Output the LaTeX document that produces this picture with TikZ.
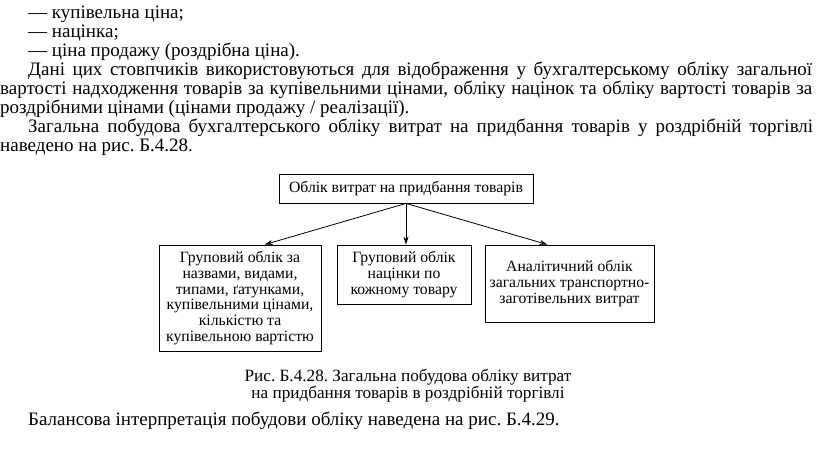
\documentclass[tikz,border=0pt]{standalone}
\usepackage{fontspec}
\setmainfont{Liberation Serif}
\usetikzlibrary{arrows.meta}
\frenchspacing
\begin{document}
\begin{tikzpicture}[x=1pt,y=-1pt,
  txt/.style={anchor=base west,inner sep=0pt,font=\fontsize{19}{19}\selectfont},
  captxt/.style={anchor=base,inner sep=0pt,font=\fontsize{17.2}{17}\selectfont},
  box/.style={draw,line width=0.8pt,inner sep=0pt,font=\fontsize{15.7}{15.7}\selectfont,align=center},
  arr/.style={-{Stealth[length=8pt,width=5pt]},line width=0.8pt}]
\useasboundingbox[fill=white] (0,0) rectangle (816,456);
\node[txt] (l1) at (28,18) {— купівельна ціна;};
\node[txt] (l2) at (28,37) {— націнка;};
\node[txt] (l3) at (28,56) {— ціна продажу (роздрібна ціна).};
\node[txt] (l4) at (28,75) {\makebox[784pt][s]{Дані цих стовпчиків використовуються для відображення у бухгалтерському обліку загальної}};
\node[txt] (l5) at (0,94) {\makebox[812pt][s]{вартості надходження товарів за купівельними цінами, обліку націнок та обліку вартості товарів за}};
\node[txt] (l6) at (0,113) {роздрібними цінами (цінами продажу / реалізації).};
\node[txt] (l7) at (28,132) {\makebox[785pt][s]{Загальна побудова бухгалтерського обліку витрат на придбання товарів у роздрібній торгівлі}};
\node[txt] (l8) at (0,151) {наведено на рис. Б.4.28.};

\node[box,minimum width=254pt,minimum height=29pt] (top) at (406,188.5) {Облік витрат на придбання товарів};
\node[box,minimum width=162pt,minimum height=106pt] (lb) at (240,298) {Груповий облік за\\назвами, видами,\\типами, ґатунками,\\купівельними цінами,\\кількістю та\\купівельною вартістю};
\node[box,minimum width=134pt,minimum height=59pt] (mb) at (404,274.5) {Груповий облік\\націнки по\\кожному товару};
\node[box,minimum width=169pt,minimum height=77pt] (rb) at (569.5,283.5) {Аналітичний облік\\загальних транспортно-\\заготівельних витрат};

\draw[arr] (top.south) -- ([xshift=106pt]lb.north west);
\draw[arr] (top.south) -- (top.south |- mb.north);
\draw[arr] (top.south) -- ([xshift=63pt]rb.north west);

\node[captxt] (c1) at (408,381) {Рис. Б.4.28. Загальна побудова обліку витрат};
\node[captxt] (c2) at (408,398) {на придбання товарів в роздрібній торгівлі};
\node[txt] (l9) at (28,425) {Балансова інтерпретація побудови обліку наведена на рис. Б.4.29.};
\end{tikzpicture}
\end{document}
